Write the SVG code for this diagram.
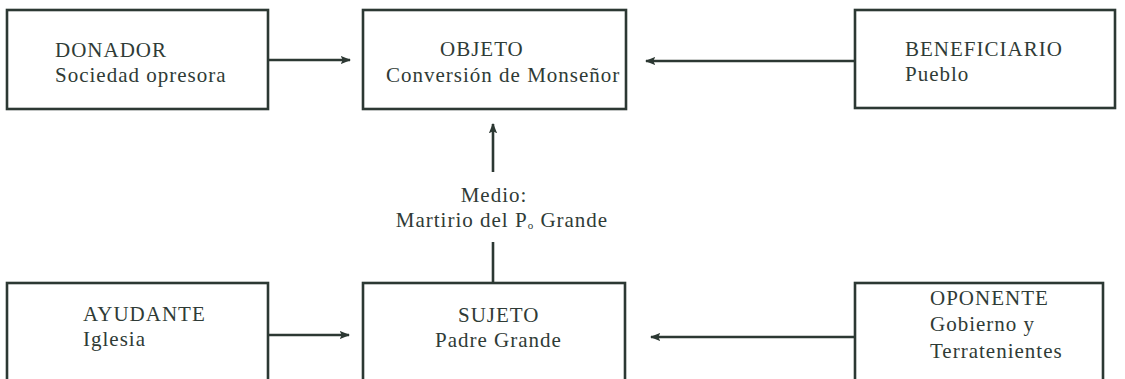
<svg xmlns="http://www.w3.org/2000/svg" width="1125" height="379" viewBox="0 0 1125 379">
<defs>
<style>
.box{fill:none;stroke:#2c3833;stroke-width:2.6}
.ln{stroke:#2c3833;stroke-width:2.6;fill:none}
.t{font-family:'Liberation Serif','DejaVu Serif',serif;font-size:21px;fill:#2f3b36;letter-spacing:1px}
.mid{text-anchor:middle}
</style>
<marker id="ah" viewBox="0 0 10 10" refX="9" refY="5" markerWidth="4" markerHeight="4" orient="auto" markerUnits="strokeWidth">
<path d="M0,1 L10,5 L0,9 L2,5 Z" fill="#2c3833"/>
</marker>
</defs>
<rect width="1125" height="379" fill="#ffffff"/>
<g id="connectors">
<line class="ln" x1="268" y1="60" x2="350" y2="60" marker-end="url(#ah)"/>
<line class="ln" x1="855" y1="61" x2="646" y2="61" marker-end="url(#ah)"/>
<line class="ln" x1="268" y1="335" x2="349" y2="335" marker-end="url(#ah)"/>
<line class="ln" x1="855" y1="337" x2="651" y2="337" marker-end="url(#ah)"/>
<line class="ln" x1="493" y1="172" x2="493" y2="124" marker-end="url(#ah)"/>
<line class="ln" x1="493" y1="242" x2="493" y2="283"/>
<g id="medio" class="t">
<text class="mid" x="494" y="202">Medio:</text>
<text class="mid" x="502" y="227">Martirio del P<tspan font-size="11" dy="2">o</tspan><tspan dy="-2"> Grande</tspan></text>
</g>
</g>
<g id="donador" class="t">
<rect class="box" x="7" y="10" width="261" height="99"/>
<text x="55" y="57">DONADOR</text>
<text x="55" y="82">Sociedad opresora</text>
</g>
<g id="objeto" class="t">
<rect class="box" x="363" y="10" width="263" height="99"/>
<text x="440" y="56">OBJETO</text>
<text x="386" y="82">Conversión de Monseñor</text>
</g>
<g id="beneficiario" class="t">
<rect class="box" x="855" y="10" width="260" height="98"/>
<text x="905" y="56">BENEFICIARIO</text>
<text x="905" y="81">Pueblo</text>
</g>
<g id="ayudante" class="t">
<rect class="box" x="7" y="283" width="261" height="110"/>
<text x="83" y="321">AYUDANTE</text>
<text x="83" y="346">Iglesia</text>
</g>
<g id="sujeto" class="t">
<rect class="box" x="363" y="283" width="262" height="110"/>
<text x="458" y="322">SUJETO</text>
<text x="435" y="347">Padre Grande</text>
</g>
<g id="oponente" class="t">
<rect class="box" x="855" y="283" width="248" height="110"/>
<text x="930" y="305">OPONENTE</text>
<text x="930" y="331">Gobierno y</text>
<text x="930" y="358">Terratenientes</text>
</g>
</svg>
